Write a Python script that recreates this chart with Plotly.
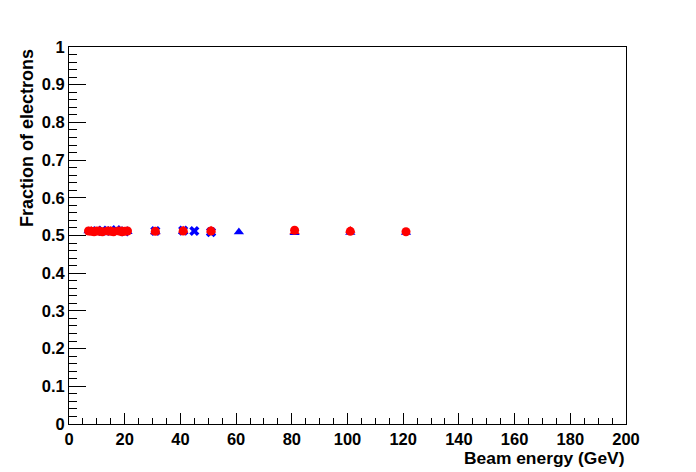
import plotly.graph_objects as go

# Beam energies (GeV) and fractions of electrons
blue_tri_e = [7, 9, 11, 13, 16, 19, 21, 31, 41, 51, 61, 81, 101, 121]
blue_tri_f = [0.512, 0.510, 0.511, 0.510, 0.512, 0.509, 0.510, 0.511, 0.510, 0.508, 0.509, 0.507, 0.508, 0.508]

blue_x_e = [10, 12, 15, 17, 20, 31, 41, 45, 51]
blue_x_f = [0.512, 0.513, 0.512, 0.514, 0.511, 0.512, 0.513, 0.512, 0.509]

red_circ_e = [7, 8, 9, 10, 11, 12, 14, 15, 16, 18, 19, 20, 21, 31, 41, 51, 81, 101, 121]
red_circ_f = [0.512, 0.511, 0.510, 0.512, 0.511, 0.510, 0.512, 0.511, 0.510, 0.512, 0.510, 0.511, 0.512, 0.511, 0.512, 0.512, 0.514, 0.511, 0.510]

red_tri_e = [8, 11, 13, 15, 17, 19, 31, 41, 51, 81, 101]
red_tri_f = [0.513, 0.513, 0.511, 0.513, 0.512, 0.513, 0.509, 0.514, 0.514, 0.510, 0.513]

x_ticks = [0, 20, 40, 60, 80, 100, 120, 140, 160, 180, 200]
y_ticks = [0, 0.1, 0.2, 0.3, 0.4, 0.5, 0.6, 0.7, 0.8, 0.9, 1]
y_labels = ["0", "0.1", "0.2", "0.3", "0.4", "0.5", "0.6", "0.7", "0.8", "0.9", "1"]

BLUE = "#0000ff"
RED = "#ff0000"
FONT = "Liberation Sans"

fig = go.Figure()
fig.add_trace(go.Scatter(x=blue_tri_e, y=blue_tri_f, mode="markers",
                         marker=dict(symbol="triangle-up", size=9, color=BLUE)))
fig.add_trace(go.Scatter(x=blue_x_e, y=blue_x_f, mode="markers",
                         marker=dict(symbol="x", size=9, color=BLUE)))
fig.add_trace(go.Scatter(x=red_tri_e, y=red_tri_f, mode="markers",
                         marker=dict(symbol="triangle-up", size=9, color=RED)))
fig.add_trace(go.Scatter(x=red_circ_e, y=red_circ_f, mode="markers",
                         marker=dict(symbol="circle", size=9, color=RED)))

axis_common = dict(showgrid=False, zeroline=False, showline=True, linecolor="black",
                   linewidth=1, mirror=True, ticks="inside", tickcolor="black",
                   tickwidth=1,
                   tickfont=dict(family=FONT, size=16.5, color="black", weight="bold"))

fig.update_xaxes(range=[0, 200], tickvals=x_ticks, ticklen=11,
                 minor=dict(ticks="inside", dtick=5, ticklen=6, tickcolor="black"),
                 **axis_common)
fig.update_yaxes(range=[0, 1], tickvals=y_ticks, ticktext=y_labels, ticklen=17,
                 minor=dict(ticks="inside", dtick=0.02, ticklen=8, tickcolor="black"),
                 **axis_common)

fig.add_annotation(text="Beam energy (GeV)", xref="paper", yref="paper", x=1, y=0,
                   xanchor="right", yanchor="top", yshift=-22, showarrow=False,
                   font=dict(family=FONT, size=17.4, color="black", weight="bold"))
fig.add_annotation(text="Fraction of electrons", xref="paper", yref="paper", x=0, y=1,
                   xanchor="right", yanchor="top", xshift=-30, textangle=-90, showarrow=False,
                   font=dict(family=FONT, size=18, color="black", weight="bold"))

fig.update_layout(width=696, height=472, showlegend=False,
                  paper_bgcolor="white", plot_bgcolor="white",
                  margin=dict(l=69, r=70, t=47, b=48))

fig.write_html("out.html", config={"displayModeBar": False},
               post_script="document.body.style.margin='0';")
